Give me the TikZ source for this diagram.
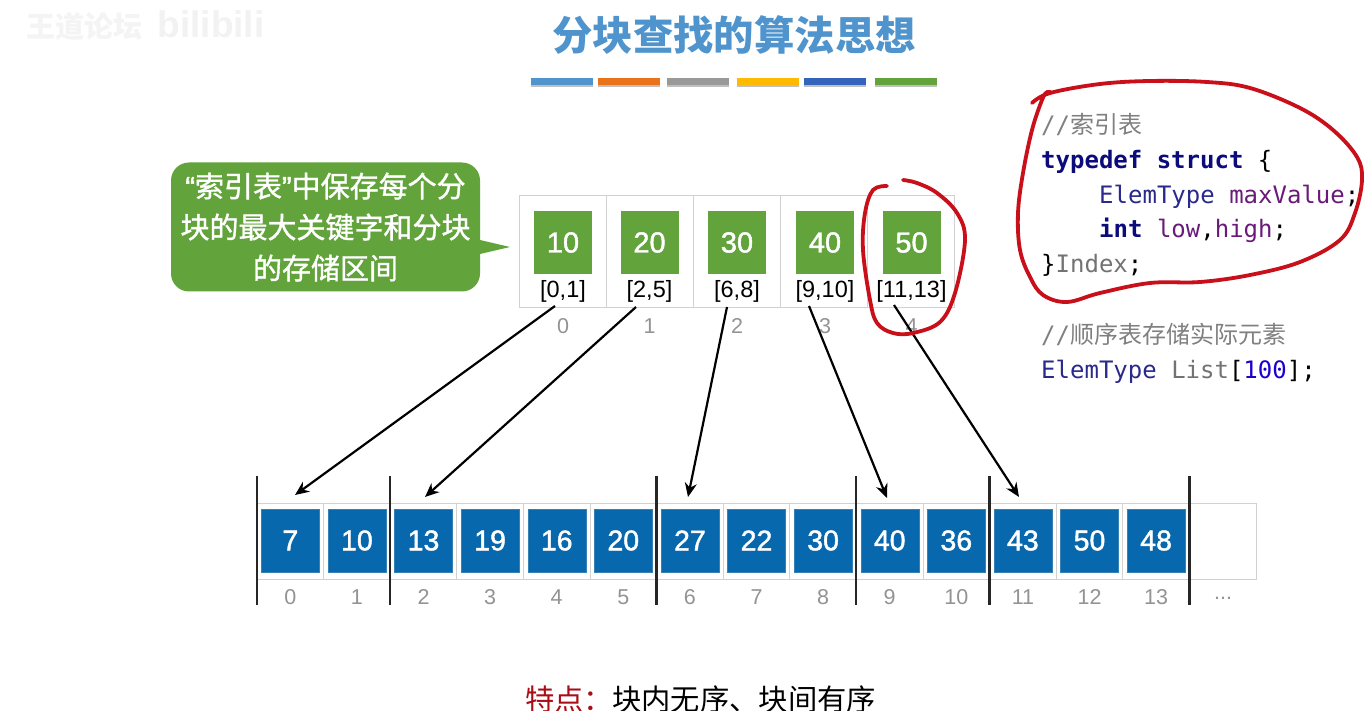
\documentclass[tikz,border=0pt]{standalone}
\usepackage{fontspec}
\setmainfont{Liberation Sans}
\setmonofont{DejaVu Sans Mono}
\newfontfamily\cjkfont{Noto Sans CJK SC}
\newfontfamily\cjkmedium[FakeBold=1.2]{Noto Sans CJK SC}
\newfontfamily\digitfont[FakeBold=1.5]{Liberation Sans}
\usetikzlibrary{arrows.meta,shadows}
\definecolor{titleblue}{HTML}{4F94CD}
\definecolor{barorange}{HTML}{E8731B}
\definecolor{bargray}{HTML}{999999}
\definecolor{baryellow}{HTML}{FFB900}
\definecolor{barblue}{HTML}{3563BB}
\definecolor{bargreen}{HTML}{62A33B}
\definecolor{blockblue}{HTML}{0868AE}
\definecolor{penred}{HTML}{C80F1A}
\definecolor{kwnavy}{HTML}{0B0B7A}
\definecolor{typenavy}{HTML}{2A2A8C}
\definecolor{varpurple}{HTML}{6A1B7A}
\definecolor{numblue}{HTML}{1C00CF}
\newcommand{\fs}[1]{\fontsize{#1}{#1}\selectfont}
\newcommand{\defineArrowEnds}{
    \coordinate (tail0) at (555, 306);
    \coordinate (tail1) at (636, 307);
    \coordinate (tail2) at (727, 307);
    \coordinate (tail3) at (809, 306);
    \coordinate (tail4) at (894, 305);
    \coordinate (head0) at (295, 495);
    \coordinate (head1) at (425, 497);
    \coordinate (head2) at (688, 497);
    \coordinate (head3) at (887, 498);
    \coordinate (head4) at (1019, 497);
    \coordinate (tipbase1) at (480, 240);
    \coordinate (tiptop) at (510, 247);
    \coordinate (tipbase2) at (480, 254);
}

\begin{document}
\begin{tikzpicture}[
    x=1pt, y=-1pt,
    % node styles
    title bar/.style={minimum width=62pt, minimum height=7pt, inner sep=0pt, fill=#1,
        drop shadow={shadow xshift=0pt, shadow yshift=-2pt, opacity=0.25, fill=black}},
    index cell/.style={draw=gray!35, minimum width=87pt, minimum height=112pt, inner sep=0pt, line width=0.8pt},
    index box/.style={fill=bargreen, minimum width=58pt, minimum height=63pt, inner sep=0pt, text=white, font=\digitfont\fs{29}},
    array cell/.style={draw=gray!35, minimum width=66.6pt, minimum height=76pt, inner sep=0pt, line width=0.8pt},
    array box/.style={fill=blockblue, draw=cyan!30!blockblue, line width=0.4pt, minimum width=58pt, minimum height=63pt, inner sep=0pt, text=white, font=\digitfont\fs{28.5}},
    range label/.style={inner sep=0pt, font=\fs{23.5}},
    index label/.style={inner sep=0pt, text=gray!85, font=\fs{21.5}},
    code line/.style={anchor=base west, inner sep=0pt, font=\ttfamily\fs{24}},
    % line styles
    block bar/.style={line width=2.8pt, black!85},
    link arrow/.style={line width=2.2pt, black, -{Stealth[length=14pt, width=12pt]}},
    pen stroke/.style={line width=3.8pt, penred, line cap=round, line join=round}
]

\useasboundingbox[fill=white] (0, 0) rectangle (1371, 711);
\defineArrowEnds

% watermark
\node[inner sep=0pt, text=gray!9, font=\cjkfont\bfseries\fs{29}] (markcn) at (85, 27) {王道论坛};
\node[inner sep=0pt, text=gray!10, font=\bfseries\fs{37}] (markbili) at (211, 24) {bilibili};

% title and colour bars
\node[inner sep=0pt, text=titleblue, font=\cjkfont\bfseries\fs{40.4}] (title) at (734, 35) {分块查找的算法思想};
\foreach \k/\cx/\col in {0/561.5/titleblue, 1/629/barorange, 2/698/bargray, 3/767.5/baryellow, 4/835/barblue, 5/905.5/bargreen}{
    \node[title bar=\col] (bar\k) at (\cx, 82) {};
}

% speech bubble
\fill[bargreen] (tipbase1) -- (tiptop) -- (tipbase2) -- cycle;
\node[fill=bargreen, rounded corners=18pt, minimum width=309pt, minimum height=129pt, inner sep=0pt, text=white, align=center,
    font=\cjkmedium\fontsize{29}{41}\selectfont] (bubble) at (325.5, 227)
    {{\digitfont “}索引表{\digitfont ”}中保存每个分\\块的最大关键字和分块\\的存储区间};

% index table
\foreach \k/\cx/\val/\rng in {0/563/10/{[0,1]}, 1/649.5/20/{[2,5]}, 2/737/30/{[6,8]}, 3/825/40/{[9,10]}, 4/911.5/50/{[11,13]}}{
    \pgfmathsetmacro{\cellx}{562.5+87*\k}
    \node[index cell] (icell\k) at (\cellx, 251) {};
    \node[index box] (ibox\k) at (\cx, 242.5) {\raisebox{-1pt}{\val}};
    \node[range label] (irange\k) at (\cx, 291) {\rng};
    \node[index label] (ilabel\k) at (\cx, 326) {\k};
}

% sequential array
\foreach \val [count=\k from 0] in {7,10,13,19,16,20,27,22,30,40,36,43,50,48,}{
    \pgfmathsetmacro{\cellx}{257+66.6*(\k+0.5)}
    \node[array cell] (acell\k) at (\cellx, 541) {};
    \ifx\val\empty\else
        \node[array box] (abox\k) at (\cellx, 540.5) {\raisebox{-1pt}{\val}};
        \node[index label] (alabel\k) at (\cellx, 597) {\k};
    \fi
}
\node[index label] (adots) at (1223, 598) {...};

% block separators
\foreach \k/\bx in {0/257, 1/390, 2/656.6, 3/856, 4/989.6, 5/1189.6}{
    \coordinate (sep\k a) at (\bx, 476);
    \coordinate (sep\k b) at (\bx, 605);
    \draw[block bar] (sep\k a) -- (sep\k b);
}

% arrows from index table to blocks
\foreach \k in {0,...,4}{
    \draw[link arrow] (tail\k) -- (head\k);
}

% code
\foreach \k/\cx/\cy/\txt in {
    0/1041/134/{\textcolor{gray}{//{\cjkfont 索引表}}},
    1/1041/169/{\textcolor{kwnavy}{\bfseries typedef struct} \{},
    2/1099/204/{\textcolor{typenavy}{ElemType} \textcolor{varpurple}{maxValue};},
    3/1099/238/{\textcolor{kwnavy}{\bfseries int} \textcolor{varpurple}{low},\textcolor{varpurple}{high};},
    4/1041/273/{\}\textcolor{gray!90!black}{Index};},
    5/1041/344/{\textcolor{gray}{//{\cjkfont 顺序表存储实际元素}}},
    6/1041/378/{\textcolor{typenavy}{ElemType} \textcolor{gray!90!black}{List}[\textcolor{numblue}{100}];}
}{
    \node[code line] (code\k) at (\cx, \cy) {\txt};
}

% bottom remark
\node[anchor=west, inner sep=0pt, text=penred!85!black, font=\cjkfont\fs{29.3}] (remarkhead) at (525, 699) {特点：};
\node[anchor=west, inner sep=0pt, font=\cjkfont\fs{29.3}] (remarkbody) at (612, 699) {块内无序、块间有序};

% red pen strokes
\draw[pen stroke] plot[smooth, tension=0.6] coordinates {
    (887,186) (873,190) (865,213) (863,250) (870,300) (877,323) (893,333) (913,333) (940,322) (955,293) (965,240) (957,213) (937,193) (917,183) (903,180)};
\draw[pen stroke] plot[smooth, tension=0.6] coordinates {
    (1032,103) (1050,93) (1100,84) (1150,81) (1207,82) (1250,88) (1300,108) (1333,130) (1357,157) (1362,180) (1355,213) (1340,240) (1300,262) (1250,275) (1200,282) (1150,283) (1100,293) (1067,302) (1043,295) (1030,277) (1020,250) (1018,213) (1023,173) (1032,130) (1042,100) (1047,92) (1052,93)};

\end{tikzpicture}
\end{document}
